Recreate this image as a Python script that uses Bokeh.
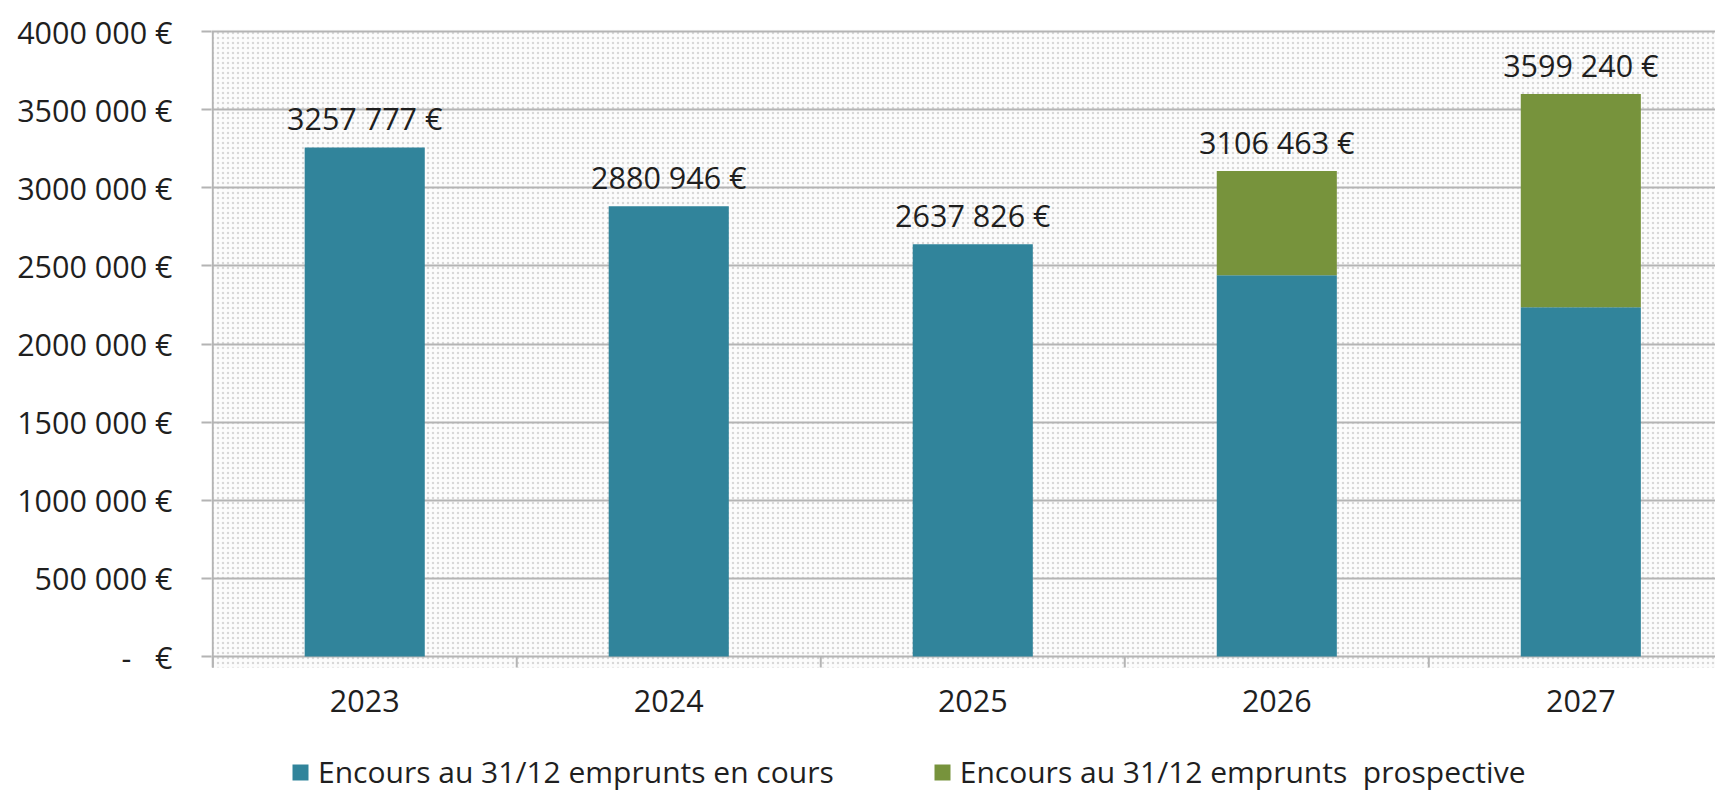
from bokeh.plotting import figure
from bokeh.models import (Range1d, FixedTicker, Legend, LegendItem, BoxAnnotation,
                          ColumnDataSource)
from bokeh.core.properties import value
from bokeh.embed import file_html
from bokeh.resources import INLINE

# ---------------- data ----------------
years = ["2023", "2024", "2025", "2026", "2027"]
en_cours = [3257777, 2880946, 2637826, 2440000, 2235000]
totals = [3257777, 2880946, 2637826, 3106463, 3599240]
prospective = [t - e for t, e in zip(totals, en_cours)]
total_labels = ["3257 777 €", "2880 946 €", "2637 826 €", "3106 463 €", "3599 240 €"]
y_ticks = [0, 500000, 1000000, 1500000, 2000000, 2500000, 3000000, 3500000, 4000000]
y_tick_labels = ["-\u00a0\u00a0\u00a0€", "500 000 €", "1000 000 €", "1500 000 €",
                 "2000 000 €", "2500 000 €", "3000 000 €", "3500 000 €", "4000 000 €"]
series_names = ["Encours au 31/12 emprunts en cours",
                "Encours au 31/12 emprunts\u00a0 prospective"]

TEAL = "#31849b"
GREEN = "#77933c"
GRID = "#b4b4b4"
TXT = "#1f1f1f"
FONT = "Open Sans"
FS = "30.5px"

AX_BOTTOM = -70400     # bottom of the plotting area (below the zero line)
Y_START = -870400      # extended frame so that the legend fits inside
Y_END = 4012800

xc = [i + 0.5 for i in range(len(years))]
src = ColumnDataSource(dict(x=xc, en_cours=en_cours, prospective=prospective,
                            total=totals, lab=total_labels,
                            yr=years, zero=[0] * len(years)))

p = figure(width=1715, height=792, output_backend="svg", toolbar_location=None,
           x_range=Range1d(-0.004, 4.943), y_range=Range1d(Y_START, Y_END),
           min_border_left=211, min_border_top=29, min_border_right=0,
           min_border_bottom=0)
p.outline_line_color = None
p.background_fill_color = "white"
p.border_fill_color = "white"

# dotted pattern background (plot area only)
bg = BoxAnnotation(bottom=AX_BOTTOM, fill_color="#fcfcfc", fill_alpha=1.0,
                   line_color=None, hatch_pattern="dot", hatch_color="#d8d8d8",
                   hatch_scale=5, hatch_weight=1, level="image")
p.add_layout(bg)

r = p.vbar_stack(["en_cours", "prospective"], x="x", width=0.395, source=src,
                 color=[TEAL, GREEN], line_color=None)

# value axis line and category boundary tick marks
p.segment(x0=[0], y0=[AX_BOTTOM], x1=[0], y1=[y_ticks[-1]],
          line_color=GRID, line_width=2)
bx = list(range(len(years) + 1))
p.segment(x0=bx, y0=[0] * len(bx), x1=bx, y1=[AX_BOTTOM] * len(bx),
          line_color=GRID, line_width=2)

# total labels
p.text(x="x", y="total", text="lab", source=src, text_align="center",
       text_baseline="alphabetic", y_offset=-29, text_font=value(FONT),
       text_font_size=FS, text_color=TXT)

# category labels
p.text(x="x", y="zero", text="yr", source=src, text_align="center",
       text_baseline="middle", y_offset=44, text_font=value(FONT),
       text_font_size=FS, text_color=TXT)

# y axis
p.yaxis.ticker = FixedTicker(ticks=y_ticks)
p.yaxis.major_label_overrides = {t: l for t, l in zip(y_ticks, y_tick_labels)}
p.yaxis.major_label_text_font = FONT
p.yaxis.major_label_text_font_size = FS
p.yaxis.major_label_text_color = TXT
p.yaxis.axis_line_color = None
p.yaxis.major_tick_line_color = GRID
p.yaxis.major_tick_line_width = 2
p.yaxis.major_tick_in = 0
p.yaxis.major_tick_out = 10
p.yaxis.minor_tick_line_color = None
p.yaxis.major_label_standoff = 29

p.xaxis.visible = False

# grid
p.xgrid.grid_line_color = None
p.ygrid.ticker = FixedTicker(ticks=y_ticks)
p.ygrid.grid_line_color = GRID
p.ygrid.grid_line_width = 2

legend = Legend(items=[LegendItem(label=series_names[0], renderers=[r[0]]),
                       LegendItem(label=series_names[1], renderers=[r[1]])],
                location=(79, 0), orientation="horizontal",
                glyph_width=20, glyph_height=20, label_standoff=8, spacing=98,
                padding=0, margin=0, border_line_color=None,
                background_fill_alpha=0,
                label_text_font=FONT, label_text_font_size="30px",
                label_text_color=TXT)
p.add_layout(legend, "center")

open("out.html", "w").write(file_html(p, INLINE))
